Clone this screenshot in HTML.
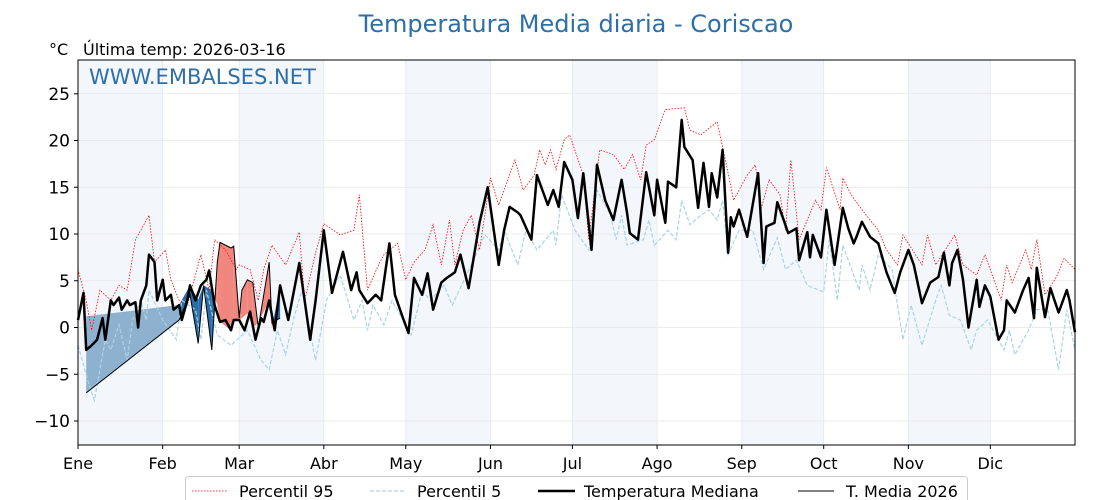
<!DOCTYPE html>
<html><head><meta charset="utf-8"><style>
body{margin:0;background:#fff;}
svg{display:block;font-family:"DejaVu Sans","Liberation Sans",sans-serif;}
</style></head><body>
<svg id="chart" width="1120" height="500" viewBox="0 0 1120 500" xmlns="http://www.w3.org/2000/svg">
<g id="bands"></g>
<g id="grid"></g>
<g id="fills"></g>
<g id="series"></g>
<rect x="78" y="60" width="997" height="385" fill="none" stroke="#000" stroke-width="1"/>
<g id="axes"></g>
<text x="576" y="32" text-anchor="middle" font-size="24" fill="#2e6fa7">Temperatura Media diaria - Coriscao</text>
<text x="49" y="55" font-size="16" fill="#000">°C</text>
<text x="83" y="55" font-size="16" fill="#000">Última temp: 2026-03-16</text>
<text x="89" y="84" font-size="21" fill="#2e6fa7">WWW.EMBALSES.NET</text>
<g>
<rect x="185.5" y="476.5" width="782" height="30" rx="3" fill="#fff" stroke="#ccc"/>
<line x1="192" y1="491" x2="228" y2="491" stroke="#f00" stroke-width="0.8" stroke-dasharray="1.5,1.5"/>
<text x="239" y="497" font-size="16">Percentil 95</text>
<line x1="370" y1="491" x2="405" y2="491" stroke="#add8e6" stroke-width="1.2" stroke-dasharray="4,2"/>
<text x="417" y="497" font-size="16">Percentil 5</text>
<line x1="538" y1="491" x2="575" y2="491" stroke="#000" stroke-width="2.5"/>
<text x="584" y="497" font-size="16">Temperatura Mediana</text>
<line x1="798" y1="491" x2="834" y2="491" stroke="#000" stroke-width="1"/>
<text x="846" y="497" font-size="16">T. Media 2026</text>
</g>
</svg>
<script>
const monthLabels=["Ene","Feb","Mar","Abr","May","Jun","Jul","Ago","Sep","Oct","Nov","Dic"];
const monthStartDays=[0,31,59,90,120,151,181,212,243,273,304,334];
const yTicks=[-10,-5,0,5,10,15,20,25];
const medDays=[0,2,3,5,7,9,10,12,13,15,16,18,19,21,22,23,25,26,28,29,31,32,34,35,37,38,40,41,43,45,47,48,50,52,54,56,57,59,61,63,65,67,68,70,72,74,77,81,85,87,90,93,97,100,102,103,106,109,111,114,116,119,121,123,126,128,130,133,135,138,140,143,147,150,154,156,158,161,162,166,168,172,174,176,178,181,183,185,188,190,193,196,199,201,202,205,208,211,212,215,216,219,221,222,225,227,229,231,232,234,236,238,239,240,242,245,249,251,252,255,256,258,260,263,264,267,268,269,272,274,277,280,282,284,285,287,290,293,296,299,301,304,306,309,312,315,317,319,320,322,324,326,329,330,332,334,337,339,340,343,346,348,350,351,354,356,359,362,363,365];
const medVals=[0.8,3.7,-2.4,-1.9,-1.3,1.0,-1.3,2.9,2.4,3.2,1.9,2.9,2.4,2.7,0,2.9,4.5,7.8,7,2.9,5.1,2.9,3.5,1.9,2.4,0.8,2.9,4.5,2.9,4.5,5.1,6.1,2.4,0.6,0.8,-0.3,0.8,0.8,-0.3,1.7,-1.3,1.0,0.6,2.9,-0.3,4.5,0.8,6.9,-1.3,2.9,10.4,3.7,8.1,4.0,5.9,4.0,2.6,3.5,2.9,9.0,3.5,1.0,-0.6,5.3,3.5,5.8,1.9,4.8,5.3,5.9,7.8,4.2,11.2,15.0,6.7,10.4,12.9,12.3,12.0,9.4,16.3,13.1,14.7,12.9,17.7,15.8,11.7,16.5,8.3,17.4,13.6,11.5,15.8,12.3,10.1,9.4,16.6,12.0,15.8,11.2,15.6,15.0,22.2,19.3,17.9,12.8,17.6,12.9,16.5,13.9,19.0,8.0,11.8,10.8,12.6,9.7,16.5,6.9,10.8,11.2,13.4,11.8,10.1,10.6,7.2,10.2,7.5,9.9,7.5,12.6,6.7,12.8,10.6,9.0,9.7,11.3,9.7,9.0,5.9,3.7,5.9,8.3,6.7,2.6,4.8,5.4,8.0,4.5,6.9,8.3,5.1,0,5.1,2.2,4.5,3.3,-1.3,-0.3,2.9,1.6,4.0,5.3,1.0,6.4,1.1,4.2,1.6,4.0,2.9,-0.5];
const p95Days=[0,3,5,8,12,15,18,21,23,26,28,32,34,37,40,45,48,50,54,58,59,63,66,68,71,76,81,83,87,90,96,101,103,106,110,112,117,120,123,127,130,133,136,138,141,144,147,151,154,156,160,163,167,169,171,173,175,178,180,185,187,191,196,200,203,206,208,211,215,222,224,228,231,234,237,240,245,248,250,253,257,259,261,264,270,272,274,279,280,283,287,293,296,300,302,309,311,314,321,324,329,332,338,340,342,347,349,351,354,358,361,365];
const p95Vals=[6.2,2.9,-0.3,4.0,2.9,4.5,4.0,9.4,10.4,12.0,7.0,8.3,5.1,2.9,2.4,7.8,4.0,9.4,8.3,6.2,6.7,6.2,2.9,6.2,8.8,6.7,10.2,2.9,8.0,11.1,9.9,10.4,14.2,4.0,6.7,7.8,9.0,5.1,7.0,8.3,11.0,6.7,11.5,6.7,10.4,12.0,8.3,16.0,13.1,14.7,17.9,14.7,16.3,19.0,17.4,19.0,16.9,20.1,20.6,16.3,9.4,19.0,18.5,16.9,18.5,15.8,19.5,20.1,23.3,23.5,21.1,20.6,21.3,22.0,17.9,13.6,16.3,17.4,12.6,15.8,14.2,10.4,17.9,9.4,13.6,12.6,17.1,12.6,16.0,14.2,12.6,10.4,8.3,6.7,9.9,6.7,9.9,6.7,9.9,6.7,5.6,7.8,2.9,6.7,4.8,8.3,6.2,9.4,3.5,5.3,7.4,6.2];
const p5Days=[0,4,6,8,10,12,15,18,20,23,25,26,31,36,38,43,45,47,51,56,62,67,70,73,76,79,82,87,91,96,101,104,106,108,112,115,122,126,129,134,137,144,149,154,156,161,164,168,174,175,177,182,187,190,195,197,199,201,207,209,211,216,219,221,224,228,231,234,236,238,242,247,251,256,259,263,267,273,275,278,280,286,287,290,293,298,300,302,305,309,314,316,319,323,327,329,333,339,341,343,348,351,355,359,362,365];
const p5Vals=[-1.9,-6.1,-7.8,-4.5,-1.3,-2.4,0.3,-3.5,0.8,2.9,0.8,4.0,0.8,-1.3,2.9,1.9,-1.3,4.0,-0.8,-1.9,-0.3,-3.5,-4.5,-0.3,-2.9,1.0,4.0,-3.5,2.9,5.6,0.8,2.9,-0.3,2.4,0.3,2.9,-0.8,4.0,2.9,4.5,2.4,6.7,9.9,8.3,10.4,6.7,10.4,8.3,10.4,8.8,14.2,10.4,8.3,14.7,12.0,9.4,12.0,8.8,9.4,11.5,8.8,10.4,9.4,13.6,11.0,12.0,12.6,11.5,13.6,7.8,10.4,10.4,6.2,9.6,6.2,7.2,4.5,3.8,9.4,2.9,8.8,4.0,6.7,4.0,7.8,6.2,2.4,-1.3,2.4,-1.9,2.9,4.5,1.3,0.8,-2.4,-0.3,0.8,-2.4,-0.3,-2.9,-0.3,1.9,1.9,-4.5,1.9,-2.4];
const days2026=[3,37,41,44,46,49,51,52,56,57,59,60,62,64,66,70,71,74];
const vals2026=[-7.0,0.8,3.5,-1.7,4.5,-2.4,7.0,9.1,8.5,8.7,1.0,4.0,5.1,4.8,0.0,7.0,0.5,1.0];
const ref2026=[1.2,2.4,4.5,3.0,4.5,4.0,2.4,0.6,-0.3,0.8,0.8,1.0,1.5,0.0,0.5,2.9,0.0,4.5];

const X0=78,X1=1075,Y0=60,Y1=445;
function xs(d){return X0+d*(X1-X0)/365;}
function ys(v){return 327.5-v*9.35;}
const NS="http://www.w3.org/2000/svg";
function mk(parent,tag,attrs){const e=document.createElementNS(NS,tag);for(const k in attrs)e.setAttribute(k,attrs[k]);document.getElementById(parent).appendChild(e);return e;}

// bands
for(let m=0;m<12;m+=2){
  const a=xs(monthStartDays[m]),b=xs(m+1<12?monthStartDays[m+1]:365);
  const r=mk('bands','rect',{x:a,y:Y0,width:b-a,height:Y1-Y0,fill:'#f3f7fc'});
  
  
}
// grid + ticks
yTicks.forEach(v=>{
  const y=ys(v);
  const g=mk('grid','line',{x1:X0,x2:X1,y1:y,y2:y,stroke:'#e6e6e6','stroke-width':0.8});
  
  
  const t=mk('axes','line',{x1:X0-4,x2:X0,y1:y,y2:y,stroke:'#000'});
  
  
  const l=mk('axes','text',{x:X0-8,y:y+6,'text-anchor':'end','font-size':17});
  l.textContent=v<0?'\u2212'+Math.abs(v):String(v);
  
  
});
monthStartDays.forEach((d,i)=>{
  const x=xs(d);
  const g=mk('grid','line',{x1:x,x2:x,y1:Y0,y2:Y1,stroke:'#e3e8ee','stroke-width':0.8});
  
  
  const t=mk('axes','line',{x1:x,x2:x,y1:Y1,y2:Y1+4,stroke:'#000'});
  
  
  const l=mk('axes','text',{x:x,y:469,'text-anchor':'middle','font-size':16});
  l.textContent=monthLabels[i];
  
  
});
// fills between 2026 and reference
for(let i=0;i<days2026.length-1;i++){
  const d0=days2026[i],d1=days2026[i+1],v0=vals2026[i],v1=vals2026[i+1],r0=ref2026[i],r1=ref2026[i+1];
  const f0=v0-r0,f1=v1-r1;
  const light=(d1-d0)>7;
  const parts=[];
  if(f0*f1>=0){parts.push([d0,v0,r0,d1,v1,r1,f0+f1]);}
  else{const t=f0/(f0-f1);const dc=d0+t*(d1-d0),vc=v0+t*(v1-v0);
    parts.push([d0,v0,r0,dc,vc,vc,f0]);parts.push([dc,vc,vc,d1,v1,r1,f1]);}
  parts.forEach(p=>{
    const pts=[[xs(p[0]),ys(p[1])],[xs(p[3]),ys(p[4])],[xs(p[3]),ys(p[5])],[xs(p[0]),ys(p[2])]].map(q=>q.join(',')).join(' ');
    const neg=p[6]<0;
    const poly=mk('fills','polygon',{points:pts,fill:neg?(light?'#8fb1d0':'#2a6ea8'):'#f08078','fill-opacity':neg?1:0.95});
    
    
  });
}
function line(days,vals,attrs,name){
  const d=days.map((dd,i)=>(i?'L':'M')+xs(dd).toFixed(1)+','+ys(vals[i]).toFixed(1)).join('');
  attrs.d=d;attrs.fill='none';
  const p=mk('series','path',attrs);
  
  
}
line(p5Days,p5Vals,{stroke:'#a8d4e4','stroke-width':1.2,'stroke-dasharray':'4,2'},'percentile-5-line');
line(p95Days,p95Vals,{stroke:'#f00','stroke-width':0.8,'stroke-dasharray':'1.5,1.5'},'percentile-95-line');
line(medDays,medVals,{stroke:'#000','stroke-width':2.5,'stroke-linejoin':'round'},'median-line');
line(days2026,vals2026,{stroke:'#000','stroke-width':1},'temp-2026-line');
</script>
</body></html>
